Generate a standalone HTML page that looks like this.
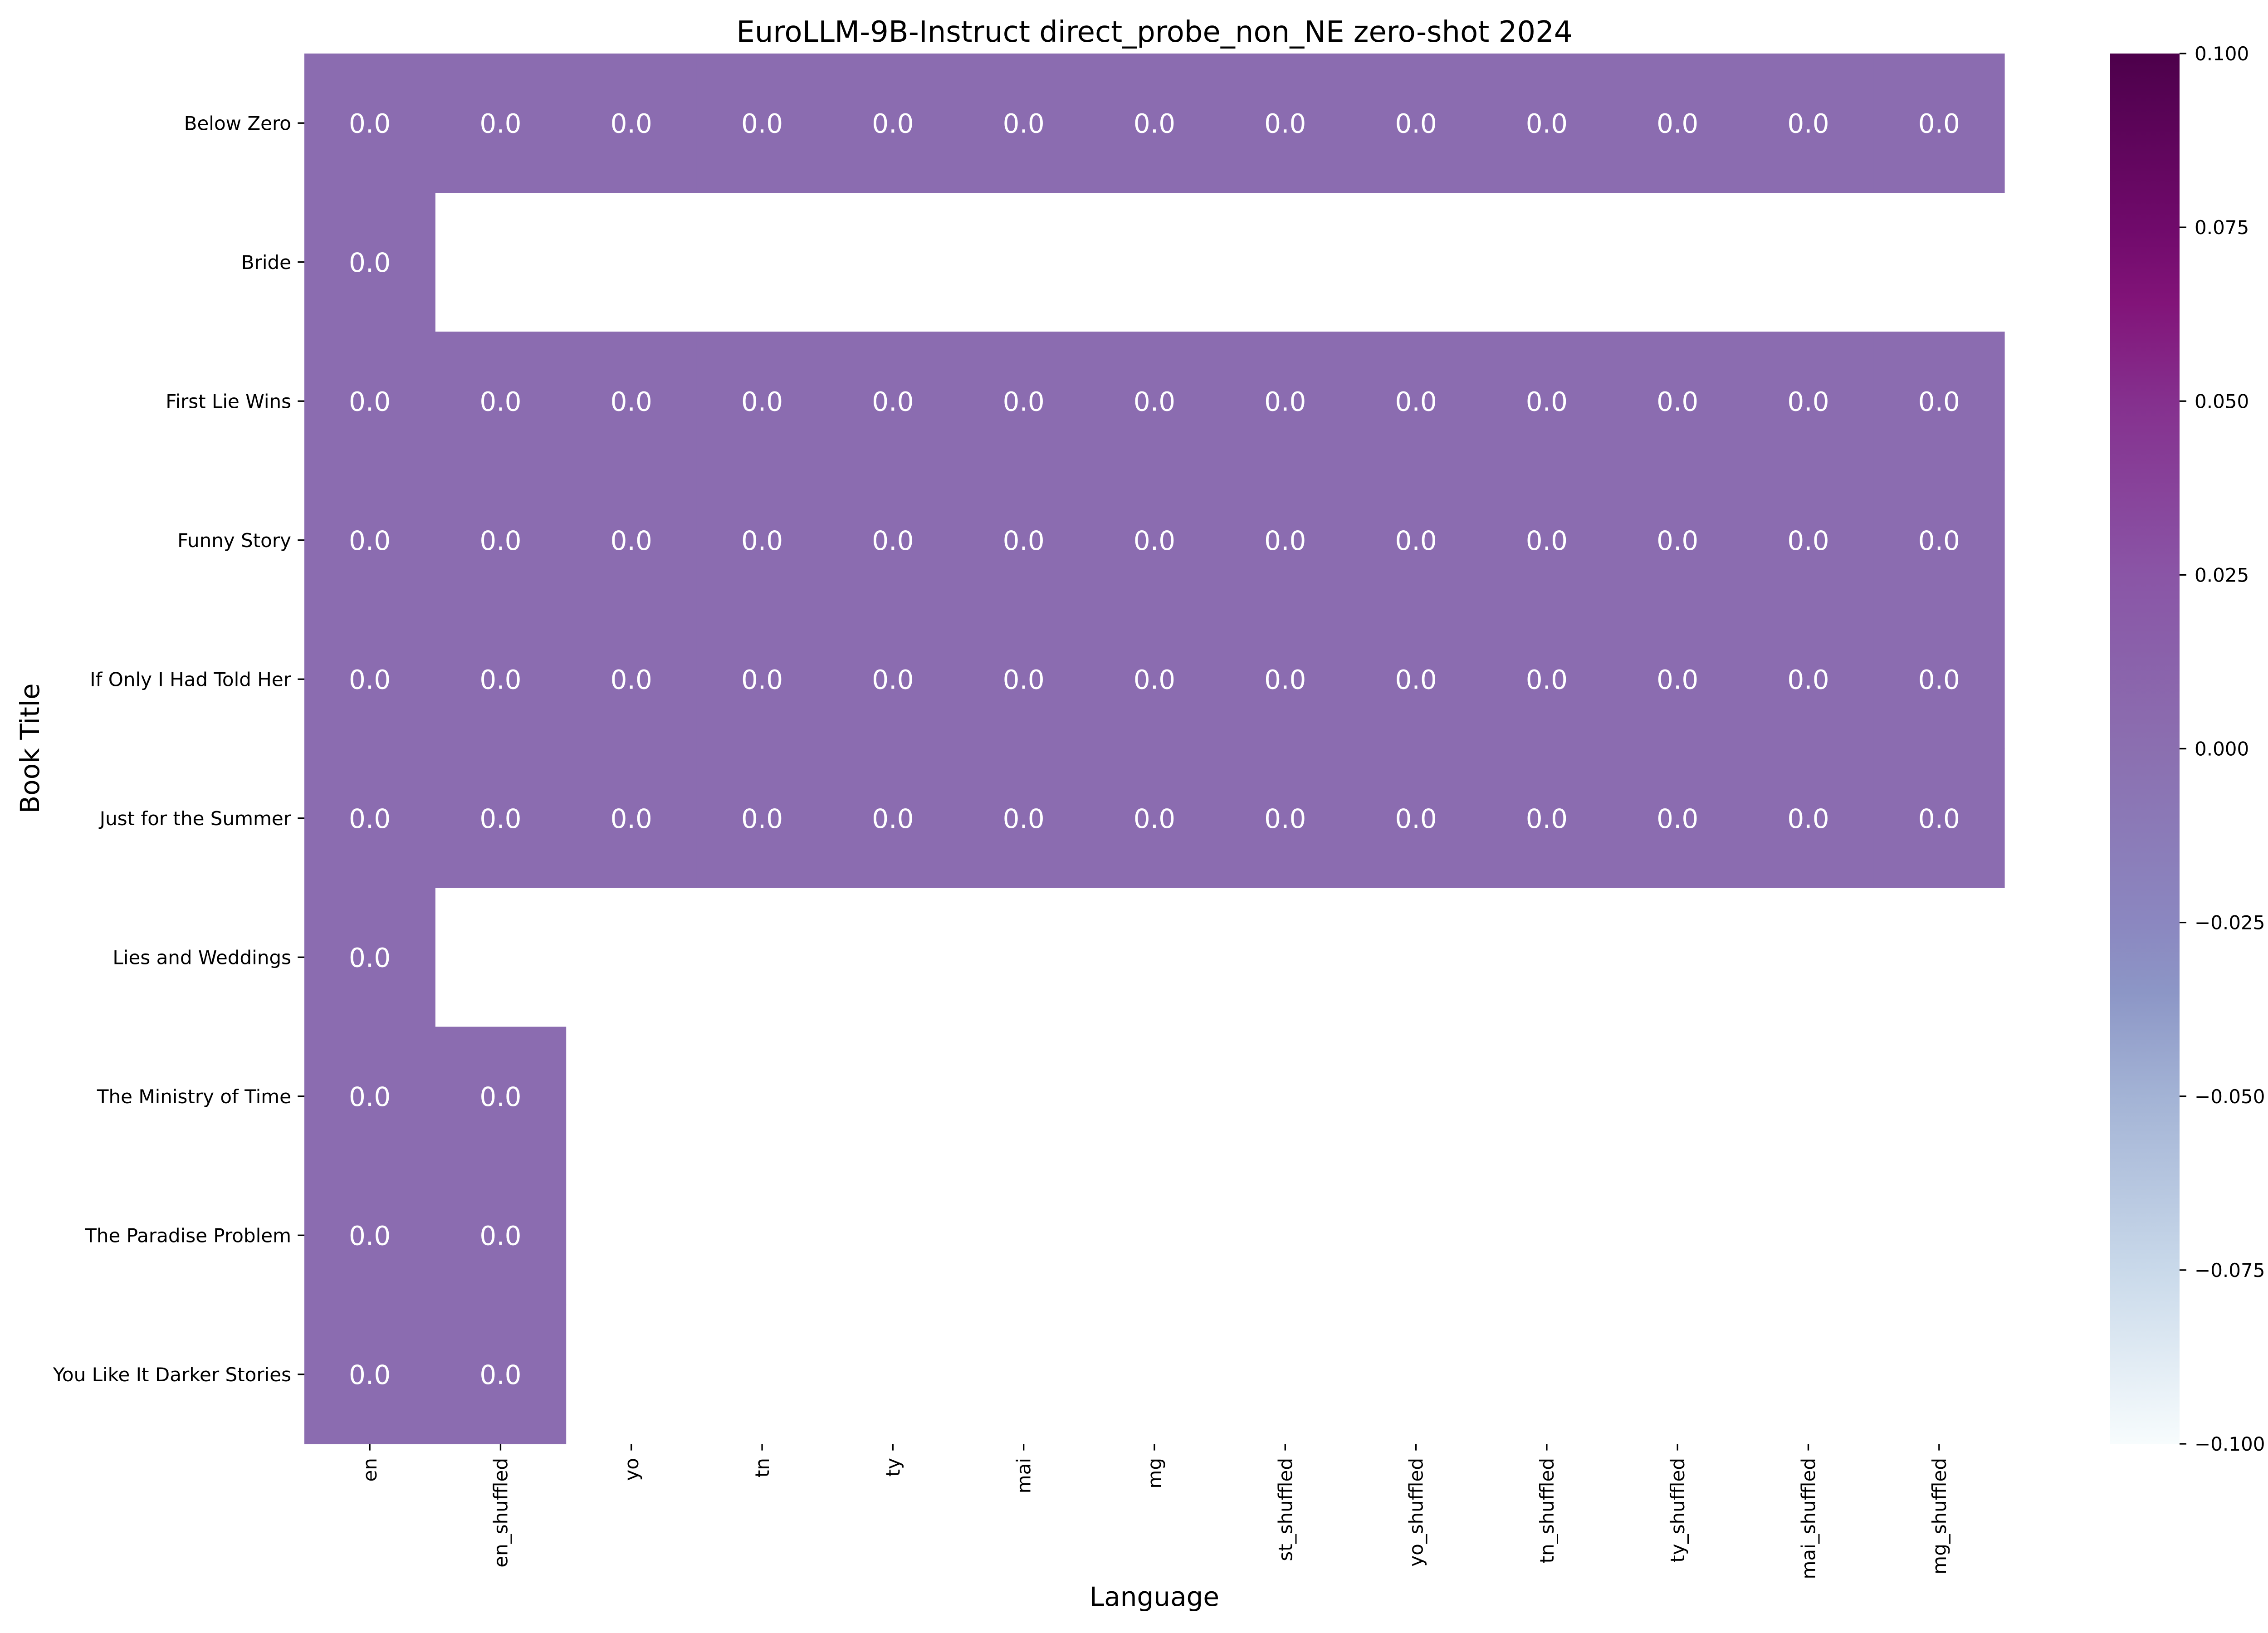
<!DOCTYPE html>
<html><head><meta charset="utf-8">
<style>
html,body{margin:0;padding:0;background:#fff;overflow:hidden;}
svg{display:block;font-family:"DejaVu Sans","Liberation Sans",sans-serif;}
</style></head>
<body>
<svg id="chart" width="5400" height="3600" viewBox="0 0 5400 3600" xmlns="http://www.w3.org/2000/svg">
<defs>
<linearGradient id="bupu" x1="0" y1="1" x2="0" y2="0">
<stop offset="0" stop-color="#f7fcfd"/>
<stop offset="0.125" stop-color="#c9d9ea"/>
<stop offset="0.25" stop-color="#a3b3d5"/>
<stop offset="0.325" stop-color="#8c96c6"/>
<stop offset="0.375" stop-color="#8b87c0"/>
<stop offset="0.5" stop-color="#8b6fb0"/>
<stop offset="0.625" stop-color="#8a55a6"/>
<stop offset="0.75" stop-color="#85308e"/>
<stop offset="0.82" stop-color="#821479"/>
<stop offset="0.875" stop-color="#700a6b"/>
<stop offset="1" stop-color="#4d004b"/>
</linearGradient>
</defs>
<rect width="5400" height="3600" fill="#fff"/>
<text x="2545" y="92" font-size="64" text-anchor="middle">EuroLLM-9B-Instruct direct_probe_non_NE zero-shot 2024</text>
<g id="cells"></g>
<g id="yticks"></g>
<g id="xticks"></g>
<text transform="translate(86,1650) rotate(-90)" font-size="58" text-anchor="middle">Book Title</text>
<text x="2545" y="3540" font-size="58" text-anchor="middle">Language</text>
<rect x="4652" y="118" width="153" height="3065" fill="url(#bupu)"/>
<g id="cbticks"></g>
<text transform="translate(5035,1650) rotate(-90)" font-size="42" text-anchor="middle">Accuracy (%)</text>
</svg>
<script>
const rows = ["Below Zero","Bride","First Lie Wins","Funny Story","If Only I Had Told Her","Just for the Summer","Lies and Weddings","The Ministry of Time","The Paradise Problem","You Like It Darker Stories"];
const cols = ["en","en_shuffled","yo","tn","ty","mai","mg","st_shuffled","yo_shuffled","tn_shuffled","ty_shuffled","mai_shuffled","mg_shuffled"];
const F = [0,0,0,0,0,0,0,0,0,0,0,0,0];
const values = [
  F.slice(),
  [0,null,null,null,null,null,null,null,null,null,null,null,null],
  F.slice(), F.slice(), F.slice(), F.slice(),
  [0,null,null,null,null,null,null,null,null,null,null,null,null],
  [0,0,null,null,null,null,null,null,null,null,null,null,null],
  [0,0,null,null,null,null,null,null,null,null,null,null,null],
  [0,0,null,null,null,null,null,null,null,null,null,null,null]
];
const cbTicks = [-0.1,-0.075,-0.05,-0.025,0,0.025,0.05,0.075,0.1];
const vmin = -0.1, vmax = 0.1;

const NS = "http://www.w3.org/2000/svg";
const L = 671, R = 4419, T = 118, B = 3183;
const cw = (R - L) / cols.length, rh = (B - T) / rows.length;
const xPos = i => L + i * cw;
const yPos = j => T + j * rh;
const cbY = v => B - (v - vmin) / (vmax - vmin) * (B - T);
const stops = [[0,[247,252,253]],[0.125,[201,217,234]],[0.25,[163,179,213]],[0.325,[140,150,198]],[0.375,[139,135,192]],[0.5,[139,108,176]],[0.625,[138,85,166]],[0.75,[133,48,142]],[0.82,[130,20,121]],[0.875,[112,10,107]],[1,[77,0,75]]];
function color(v){
  let t = Math.max(0, Math.min(1, (v - vmin) / (vmax - vmin)));
  for (let k = 1; k < stops.length; k++) {
    if (t <= stops[k][0]) {
      const a = stops[k-1], b = stops[k], f = (t - a[0]) / (b[0] - a[0]);
      const c = a[1].map((x, i) => Math.round(x + (b[1][i] - x) * f));
      return "rgb(" + c.join(",") + ")";
    }
  }
  return "rgb(77,0,75)";
}
function mk(tag, attrs, parent){
  const e = document.createElementNS(NS, tag);
  for (const k in attrs) e.setAttribute(k, attrs[k]);
  parent.appendChild(e);
  return e;
}
const cells = document.getElementById("cells");
values.forEach((row, j) => {
  row.forEach((v, i) => {
    if (v === null) return;
    const r = mk("rect", {x: xPos(i), y: yPos(j), width: cw + 0.6, height: rh + 0.6, fill: color(v)}, cells);
    
    
    const t = mk("text", {x: xPos(i) + cw/2, y: yPos(j) + rh/2 + 21, "font-size": 58, fill: "#fff", "text-anchor": "middle"}, cells);
    
    
    t.textContent = v.toFixed(1);
  });
});
const yt = document.getElementById("yticks");
rows.forEach((name, j) => {
  const y = yPos(j) + rh/2;
  const ln = mk("line", {x1: L - 14.6, x2: L, y1: y, y2: y, stroke: "#000", "stroke-width": 3.3}, yt);
  
  
  const t = mk("text", {x: L - 29, y: y + 15, "font-size": 42, "text-anchor": "end"}, yt);
  
  
  t.textContent = name;
});
const xt = document.getElementById("xticks");
cols.forEach((name, i) => {
  const x = xPos(i) + cw/2;
  const ln = mk("line", {x1: x, x2: x, y1: B, y2: B + 14.6, stroke: "#000", "stroke-width": 3.3}, xt);
  
  
  const t = mk("text", {transform: "translate(" + (x + 15) + "," + (B + 31) + ") rotate(-90)", "font-size": 42, "text-anchor": "end"}, xt);
  
  
  t.textContent = name;
});
const cb = document.getElementById("cbticks");
cbTicks.forEach(v => {
  const y = cbY(v);
  const ln = mk("line", {x1: 4805, x2: 4820, y1: y, y2: y, stroke: "#000", "stroke-width": 3.3}, cb);
  
  
  const t = mk("text", {x: 4838, y: y + 15, "font-size": 42}, cb);
  
  
  t.textContent = (v < 0 ? "\u2212" : "") + Math.abs(v).toFixed(3);
});
</script>
</body></html>
